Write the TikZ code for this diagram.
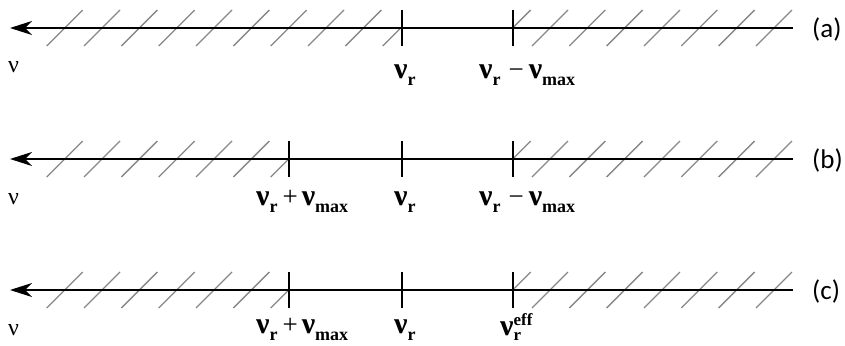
\documentclass[tikz,border=0pt]{standalone}
\usepackage{fontspec}
\setmainfont{Liberation Serif}
\newfontfamily\carlito{Carlito}
\usetikzlibrary{arrows.meta}
\definecolor{hatchgray}{RGB}{135,135,135}
\newcommand{\bnu}{{\fontsize{30}{30}\selectfont\bfseries ν}}
\newcommand{\sbs}[1]{\raisebox{-7pt}{\fontsize{18}{18}\selectfont\bfseries #1}}
\newcommand{\sps}[1]{\raisebox{10pt}{\fontsize{17}{17}\selectfont\bfseries #1}}
\newcommand{\opsym}[1]{{\fontsize{27}{27}\selectfont #1}}
\tikzset{
  axisline/.style={line width=1.6pt, black, -{Stealth[length=22pt,width=14pt,inset=7pt]}},
  tickline/.style={line width=1.6pt, black},
  hatchline/.style={line width=1.3pt, hatchgray},
  lbl/.style={inner sep=0pt, anchor=base west},
  tag/.style={inner sep=0pt, anchor=west, font=\carlito\fontsize{27}{27}\selectfont},
  nulbl/.style={inner sep=0pt, anchor=base west, font=\fontsize{24}{24}\selectfont}
}
\begin{document}
\begin{tikzpicture}[x=1pt,y=-1pt]
\useasboundingbox (0,0) rectangle (845,345);
\foreach \r/\y/\L in {a/28/401.7, b/159/289, c/290/289}{
  % hatching, clipped to the two shaded regions
  \begin{scope}
    \clip (0,\y-19) rectangle (\L,\y+19);
    \foreach \k in {0,...,19}
      \draw[hatchline] ({46.7+37.33*\k},\y+18) -- ++(36,-36);
  \end{scope}
  \begin{scope}
    \clip (513,\y-19) rectangle (800,\y+19);
    \foreach \k in {0,...,19}
      \draw[hatchline] ({46.7+37.33*\k},\y+18) -- ++(36,-36);
  \end{scope}
  % axis
  \coordinate (L\r) at (10,\y);
  \coordinate (R\r) at (793,\y);
  \draw[axisline] (R\r) -- (L\r);
  % ticks
  \coordinate (T1u\r) at (\L,\y-18);
  \coordinate (T1d\r) at (\L,\y+18);
  \coordinate (T3u\r) at (513,\y-18);
  \coordinate (T3d\r) at (513,\y+18);
  \draw[tickline] (T1u\r) -- (T1d\r);
  \draw[tickline] (T3u\r) -- (T3d\r);
  % labels
  \node[nulbl] (nu\r) at (8,\y+45) {ν};
  \node[tag] (tag\r) at (812,\y+1) {(\r)};
}
% middle ticks for rows b and c
\coordinate (T2ub) at (401.7,141); \coordinate (T2db) at (401.7,177);
\coordinate (T2uc) at (401.7,272); \coordinate (T2dc) at (401.7,308);
\draw[tickline] (T2ub) -- (T2db);
\draw[tickline] (T2uc) -- (T2dc);
% row a labels
\node[lbl] (a1) at (394,78) {\bnu\sbs{r}};
\node[lbl] (a2) at (479,78) {\bnu\sbs{r}\hspace{8pt}\opsym{−}\hspace{5pt}\bnu\sbs{max}};
% row b labels
\node[lbl] (b1) at (256,205) {\bnu\sbs{r}\hspace{5pt}\opsym{+}\hspace{4pt}\bnu\sbs{max}};
\node[lbl] (b2) at (394,205) {\bnu\sbs{r}};
\node[lbl] (b3) at (479,205) {\bnu\sbs{r}\hspace{8pt}\opsym{−}\hspace{5pt}\bnu\sbs{max}};
% row c labels
\node[lbl] (c1) at (256,333) {\bnu\sbs{r}\hspace{5pt}\opsym{+}\hspace{4pt}\bnu\sbs{max}};
\node[lbl] (c2) at (394,333) {\bnu\sbs{r}};
\node[lbl] (c3) at (500,335) {\bnu\rlap{\raisebox{-5pt}{\fontsize{17}{17}\selectfont\bfseries r}}\sps{eff}};
\end{tikzpicture}
\end{document}
